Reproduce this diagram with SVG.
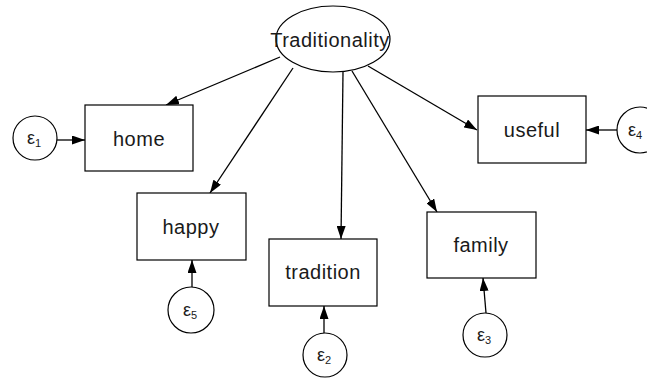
<svg xmlns="http://www.w3.org/2000/svg" width="647" height="379" viewBox="0 0 647 379">
<style>
.box{fill:#fff;stroke:#000;stroke-width:1.2}
.err{fill:#fff;stroke:#000;stroke-width:1.2}
.lbl{font-family:"Liberation Sans",Arial,sans-serif;font-size:20px;fill:#1a1a1a;text-anchor:middle;letter-spacing:0.5px}
.eps{font-family:"Liberation Sans",Arial,sans-serif;font-size:18px;fill:#1a1a1a}
.sub{font-size:11px}
.edge{stroke:#000;stroke-width:1.3;fill:none;marker-end:url(#ah)}
</style>
<defs>
<marker id="ah" markerUnits="userSpaceOnUse" markerWidth="13" markerHeight="9" refX="13" refY="4.5" orient="auto">
<path d="M0,0 L13,4.5 L0,9 Z" fill="#000"/>
</marker>
</defs>
<rect width="647" height="379" fill="#fff"/>
<g id="connectors">
<line class="edge" x1="280" y1="57" x2="166" y2="105"/>
<line class="edge" x1="293" y1="68" x2="210" y2="193"/>
<line class="edge" x1="343" y1="72" x2="341" y2="239"/>
<line class="edge" x1="352" y1="71" x2="437" y2="212"/>
<line class="edge" x1="368" y1="66" x2="477" y2="130"/>
<line class="edge" x1="57" y1="140" x2="85" y2="140"/>
<line class="edge" x1="192" y1="287" x2="192" y2="260"/>
<line class="edge" x1="324" y1="333" x2="324" y2="306"/>
<line class="edge" x1="486" y1="313" x2="483" y2="278"/>
<line class="edge" x1="617" y1="130" x2="586" y2="130"/>
</g>
<g id="Traditionality">
<ellipse cx="333" cy="39" rx="57" ry="33" fill="#fff" stroke="#000" stroke-width="1.2"/>
<text class="lbl" x="330" y="47">Traditionality</text>
</g>
<g id="home">
<rect class="box" x="85" y="105" width="108" height="66"/>
<text class="lbl" x="139" y="146">home</text>
</g>
<g id="happy">
<rect class="box" x="137" y="193" width="109" height="67"/>
<text class="lbl" x="191" y="234">happy</text>
</g>
<g id="tradition">
<rect class="box" x="269" y="239" width="108" height="67"/>
<text class="lbl" x="323" y="279">tradition</text>
</g>
<g id="family">
<rect class="box" x="427" y="212" width="109" height="66"/>
<text class="lbl" x="481" y="252">family</text>
</g>
<g id="useful">
<rect class="box" x="478" y="96" width="108" height="67"/>
<text class="lbl" x="532" y="137">useful</text>
</g>
<g id="e1">
<circle class="err" cx="35" cy="138" r="22"/>
<text class="eps" x="27" y="144">ε<tspan class="sub" dy="3">1</tspan></text>
</g>
<g id="e5">
<circle class="err" cx="191" cy="310" r="23"/>
<text class="eps" x="183" y="316">ε<tspan class="sub" dy="3">5</tspan></text>
</g>
<g id="e2">
<circle class="err" cx="325" cy="355" r="22"/>
<text class="eps" x="317" y="361">ε<tspan class="sub" dy="3">2</tspan></text>
</g>
<g id="e3">
<circle class="err" cx="485" cy="335" r="22"/>
<text class="eps" x="477" y="341">ε<tspan class="sub" dy="3">3</tspan></text>
</g>
<g id="e4">
<circle class="err" cx="640" cy="130" r="23"/>
<text class="eps" x="628" y="136">ε<tspan class="sub" dy="3">4</tspan></text>
</g>
</svg>
